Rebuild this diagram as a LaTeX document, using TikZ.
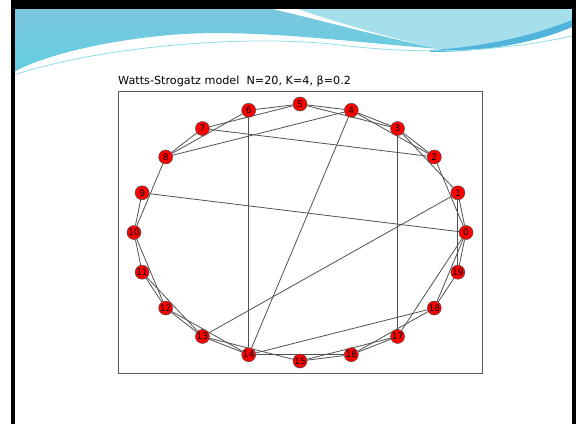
\documentclass[tikz,border=0pt]{standalone}
\usepackage{fontspec}
\setmainfont{DejaVu Sans}
\definecolor{hdA}{HTML}{7BC6DF}
\definecolor{hdAlow}{HTML}{62CFE0}
\definecolor{hdB}{HTML}{A6DFEC}
\definecolor{hdC}{HTML}{4FB3DB}
\definecolor{hdLine}{HTML}{8FDDE6}
\pgfdeclarelayer{bgl}
\pgfdeclarelayer{edges}
\pgfsetlayers{bgl,edges,main}
\begin{document}
\begin{tikzpicture}[x=1pt,y=-1pt,
  vtx/.style={circle, fill=red, draw=black!70, line width=0.5pt, minimum size=14pt, inner sep=0pt, font=\fontsize{9}{9}\selectfont, text=black},
  edge/.style={draw=black!68, line width=0.8pt},
  plotframe/.style={draw=black!65, line width=1pt, inner sep=0pt}]
\useasboundingbox (0,0) rectangle (576,424);
\begin{pgfonlayer}{bgl}
\fill[white] (0,0) rectangle (576,424);
% header swoosh
\shade[top color=hdA, bottom color=hdAlow] (14,9) -- (272,9) .. controls (320,20) and (385,38) .. (440,49)
  .. controls (350,42) and (250,28) .. (170,35) .. controls (100,41) and (40,57) .. (14,72) -- cycle;
\fill[hdB] (298,9) -- (572,9) -- (572,26) .. controls (530,40) and (480,50) .. (440,49)
  .. controls (390,38) and (335,22) .. (298,9) -- cycle;
\fill[hdC] (430,50) .. controls (490,47) and (540,33) .. (572,20) -- (572,27) .. controls (540,41) and (490,52) .. (430,52) -- cycle;
\draw[hdLine, line width=0.8pt] (14,75) .. controls (100,46) and (250,34) .. (340,45) .. controls (420,55) and (500,52) .. (572,36);
% black slide frame
\fill[black] (11,0) rectangle (576,9);
\fill[black] (11,0) rectangle (14.5,424);
\fill[black] (572,0) rectangle (576,424);
\end{pgfonlayer}
% title and plot frame
\node[anchor=base west, inner sep=0pt, font=\fontsize{11.2}{13}\selectfont] (title) at (118,84) {Watts-Strogatz model\ \ N=20, K=4, β=0.2};
\node[plotframe, minimum width=364pt, minimum height=282pt, anchor=north west] (box) at (118,91) {};
% vertices
\foreach \i in {0,...,19}
  \node[vtx] (n\i) at ({300+166*cos(18*\i)},{232.5-128.5*sin(18*\i)}) {\i};
% edges
\begin{pgfonlayer}{edges}
\foreach \a/\b in {0/1,2/3,3/4,4/5,5/6,7/8,9/10,10/11,11/12,12/13,13/14,15/16,16/17,18/19,19/0,
  0/2,1/3,2/4,3/5,5/7,6/8,8/10,10/12,11/13,12/14,13/15,14/16,15/17,16/18,18/0,19/1,
  6/14,4/14,14/18,3/17,1/13,7/2,8/4,9/0,0/17}
  \draw[edge] (n\a) -- (n\b);
\end{pgfonlayer}
\end{tikzpicture}
\end{document}
